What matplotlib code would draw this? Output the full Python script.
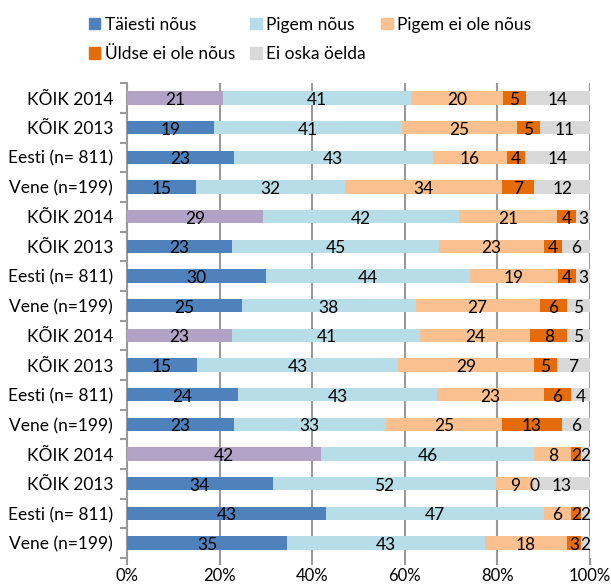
import matplotlib.pyplot as plt
import numpy as np

# categories, top to bottom
rows = ['KÕIK 2014', 'KÕIK 2013', 'Eesti (n= 811)', 'Vene (n=199)',
        'KÕIK 2014', 'KÕIK 2013', 'Eesti (n= 811)', 'Vene (n=199)',
        'KÕIK 2014', 'KÕIK 2013', 'Eesti (n= 811)', 'Vene (n=199)',
        'KÕIK 2014', 'KÕIK 2013', 'Eesti (n= 811)', 'Vene (n=199)']

series = ['Täiesti nõus', 'Pigem nõus', 'Pigem ei ole nõus',
          'Üldse ei ole nõus', 'Ei oska öelda']

taiesti = [21, 19, 23, 15, 29, 23, 30, 25, 23, 15, 24, 23, 42, 34, 43, 35]
pigem = [41, 41, 43, 32, 42, 45, 44, 38, 41, 43, 43, 33, 46, 52, 47, 43]
pigem_ei = [20, 25, 16, 34, 21, 23, 19, 27, 24, 29, 23, 25, 8, 9, 6, 18]
uldse = [5, 5, 4, 7, 4, 4, 4, 6, 8, 5, 6, 13, 2, 0, 2, 3]
ei_oska = [14, 11, 14, 12, 3, 6, 3, 5, 5, 7, 4, 6, 2, 13, 2, 2]

xticks = ['0%', '20%', '40%', '60%', '80%', '100%']

colors = ['#4F81BD', '#B7DEE8', '#FAC090', '#E46C0A', '#D9D9D9']
purple = '#B3A2C7'

plt.rcParams['font.family'] = ['Lato', 'DejaVu Sans']
fs = 12.5

fig = plt.figure(figsize=(6.11, 5.88), dpi=100)
ax = fig.add_axes([0.2079, 0.0512, 0.7577, 0.8073])

data = np.array([taiesti, pigem, pigem_ei, uldse, ei_oska], dtype=float)
totals = data.sum(axis=0)
share = data / totals * 100
y = np.arange(len(rows))

left = np.zeros(len(rows))
for i, name in enumerate(series):
    cols = [colors[i]] * len(rows)
    if i == 0:
        # KÕIK 2014 rows highlighted in purple
        cols = [purple if r == 'KÕIK 2014' else colors[0] for r in rows]
    ax.barh(y, share[i], left=left, height=0.45, color=cols, label=name, zorder=3)
    for j in range(len(rows)):
        ax.text(left[j] + share[i][j] / 2, y[j] + 0.07, str(int(data[i][j])),
                ha='center', va='center', fontsize=fs, color='black', zorder=4)
    left += share[i]

ax.set_xlim(0, 100)
ax.set_ylim(len(rows) - 0.5, -0.5)
ax.set_yticks(y)
ax.set_yticklabels(rows, fontsize=fs)
ax.set_yticks(np.arange(-0.5, len(rows), 1), minor=True)
ax.tick_params(axis='y', which='major', length=0, pad=10)
ax.tick_params(axis='y', which='minor', length=5, color='#999999', width=1.5)

ax.set_xticks([0, 20, 40, 60, 80, 100])
ax.set_xticklabels(xticks, fontsize=12)
ax.tick_params(axis='x', length=5, color='#999999', width=1.5, pad=2)
ax.grid(axis='x', color='#999999', linewidth=1.5, zorder=0)

for s in ['top', 'right', 'bottom']:
    ax.spines[s].set_visible(False)
ax.spines['left'].set_color('#999999')
ax.spines['left'].set_linewidth(1.5)

# legend is filled column by column, so reorder to read row by row
order = [0, 3, 1, 4, 2]
handles = [plt.Rectangle((0, 0), 1, 1, color=colors[k]) for k in order]
labels = [series[k] for k in order]
fig.legend(handles, labels, loc='upper left', bbox_to_anchor=(0.12, 0.998),
           ncol=3, frameon=False, fontsize=fs, handlelength=0.65,
           handleheight=0.65, handletextpad=0.25, columnspacing=0.9,
           labelspacing=0.75)

plt.savefig('out.png', dpi=100)
